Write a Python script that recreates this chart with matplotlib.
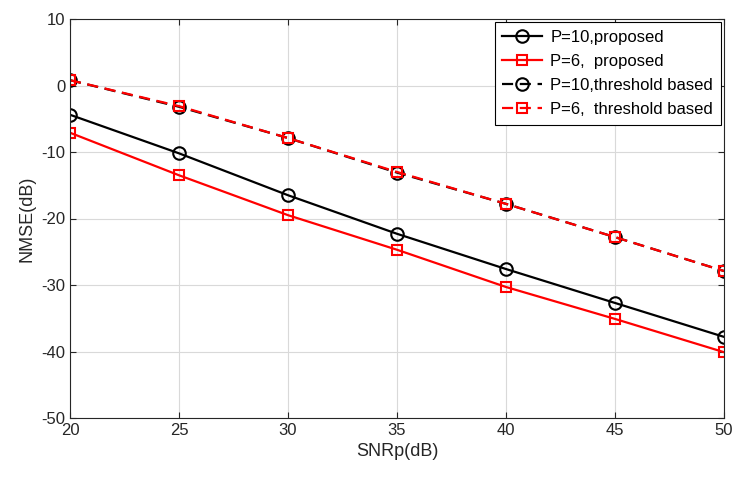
import matplotlib.pyplot as plt

plt.rcParams['font.family'] = ['Liberation Sans', 'DejaVu Sans']
plt.rcParams['axes.unicode_minus'] = False

snr = [20, 25, 30, 35, 40, 45, 50]
p10_proposed = [-4.4, -10.2, -16.5, -22.3, -27.6, -32.7, -37.8]
p6_proposed = [-7.1, -13.5, -19.5, -24.7, -30.3, -35.1, -40.1]
p10_threshold = [0.8, -3.2, -7.9, -13.1, -17.8, -22.8, -27.9]
p6_threshold = [0.8, -3.1, -7.9, -13.0, -17.8, -22.8, -27.9]

fig = plt.figure(figsize=(7.47, 4.96), dpi=100)
ax = fig.add_axes([70 / 747, 1 - 418 / 496, 654 / 747, 399 / 496])

# proposed (solid)
ax.plot(snr, p10_proposed, '-o', color='black', lw=1.6, ms=9, mfc='none', mew=1.5,
        label='P=10,proposed')
ax.plot(snr, p6_proposed, '-s', color='red', lw=1.6, ms=7, mfc='none', mew=1.5,
        label='P=6,  proposed')
# threshold based (dashed)
ax.plot(snr, p10_threshold, '--o', color='black', lw=1.6, ms=9, mfc='none', mew=1.5,
        dashes=(5, 3), label='P=10,threshold based')
ax.plot(snr, p6_threshold, '--s', color='red', lw=1.6, ms=7, mfc='none', mew=1.5,
        dashes=(5, 3), label='P=6,  threshold based')

ax.set_xlim(20, 50)
ax.set_ylim(-50, 10)
ax.set_xticks(range(20, 51, 5))
ax.set_yticks(range(-50, 11, 10))
ax.tick_params(labelsize=12, direction='in', length=4, color='#262626',
               labelcolor='#262626', top=True, right=True)
ax.set_xlabel('SNRp(dB)', fontsize=13, color='#262626')
ax.set_ylabel('NMSE(dB)', fontsize=13, color='#262626')
ax.grid(True, color='#d9d9d9', lw=0.8)
ax.set_axisbelow(True)
for s in ax.spines.values():
    s.set_color('#262626')
    s.set_linewidth(0.8)

leg = ax.legend(loc='upper right', fontsize=12, fancybox=False, framealpha=1,
                edgecolor='black', borderaxespad=0.2, handlelength=2.4,
                labelspacing=0.55, borderpad=0.45, handletextpad=0.5)
leg.get_frame().set_linewidth(0.8)

fig.savefig('out.png', dpi=100)
